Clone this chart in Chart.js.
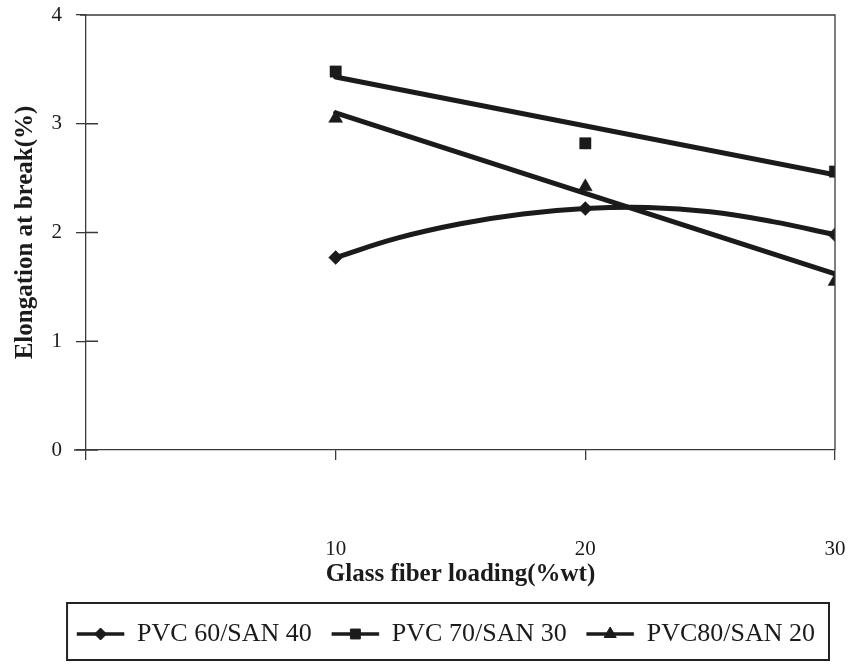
<!DOCTYPE html>
<html lang="en">
<head>
    <meta charset="UTF-8">
    <title>Elongation at break vs glass fiber loading</title>
    <script src="https://cdn.jsdelivr.net/npm/chart.js"></script>
    <style>
        html, body {
            margin: 0;
            padding: 0;
            background-color: #ffffff;
        }

        .chart-container {
            width: 849px;
            height: 668px;
        }
    </style>
</head>
<body>
    <div class="chart-container">
        <canvas id="elongationChart"></canvas>
    </div>

    <script>
        // glass fiber loading (%wt)
        const loading = [10, 20, 30];

        // measured elongation at break (%)
        const pvc60san40 = [1.77, 2.22, 1.98];
        const pvc70san30 = [3.48, 2.82, 2.56];
        const pvc80san20 = [3.05, 2.42, 1.55];

        // trend lines
        const curveLoading = [10, 12.5, 15, 17.5, 20, 22.5, 25, 27.5, 30];
        const curve60 = [1.77, 1.95, 2.08, 2.17, 2.22, 2.23, 2.19, 2.10, 1.98];
        const lineLoading = [10, 30];
        const line70 = [3.43, 2.53];
        const line80 = [3.10, 1.62];

        const seriesNames = ['PVC 60/SAN 40', 'PVC 70/SAN 30', 'PVC80/SAN 20'];
        const markerStyles = ['rectRot', 'rect', 'triangle'];
        const markerSizes = [7, 8, 8];

        const ink = '#1b1b1b';
        const axisInk = '#3a3a3a';
        const serif = "'Liberation Serif', 'Times New Roman', serif";
        const legendFontSize = 26;
        const legendBoxWidth = 47;

        function points(xs, ys) {
            return xs.map((x, i) => ({ x: x, y: ys[i] }));
        }

        // Draws the top/right frame, the inner half of the y ticks,
        // and the boxed legend with a marker on each line sample
        const framePlugin = {
            id: 'frame',
            afterDraw(chart) {
                const ctx = chart.ctx;
                const a = chart.chartArea;
                const yScale = chart.scales.y;

                ctx.save();
                ctx.strokeStyle = axisInk;
                ctx.lineWidth = 1.3;
                ctx.beginPath();
                ctx.moveTo(a.left - 6, a.top);
                ctx.lineTo(a.right, a.top);
                ctx.lineTo(a.right, a.bottom);
                yScale.ticks.forEach(t => {
                    const py = yScale.getPixelForValue(t.value);
                    ctx.moveTo(a.left, py);
                    ctx.lineTo(a.left + 12, py);
                });
                ctx.moveTo(a.left - 12, a.bottom);
                ctx.lineTo(a.left, a.bottom);
                ctx.stroke();

                const boxes = chart.legend.legendHitBoxes || [];
                if (boxes.length) {
                    let minLeft = Infinity;
                    let maxRight = -Infinity;
                    let cy = 0;
                    boxes.forEach((h, i) => {
                        const cx = h.left + legendBoxWidth / 2;
                        cy = h.top + legendFontSize / 2;
                        minLeft = Math.min(minLeft, h.left);
                        maxRight = Math.max(maxRight, h.left + h.width);
                        ctx.fillStyle = ink;
                        ctx.strokeStyle = ink;
                        ctx.lineWidth = 1;
                        Chart.helpers.drawPoint(ctx, {
                            pointStyle: markerStyles[i],
                            radius: markerSizes[i] - 1,
                            rotation: 0,
                            borderWidth: 1
                        }, cx, cy);
                    });
                    ctx.strokeStyle = '#222';
                    ctx.lineWidth = 2;
                    ctx.strokeRect(minLeft - 10, cy - 31, maxRight - minLeft + 24, 57);
                }
                ctx.restore();
            }
        };

        const markerSets = [pvc60san40, pvc70san30, pvc80san20].map((values, i) => ({
            label: seriesNames[i],
            data: points(loading, values),
            showLine: false,
            pointStyle: markerStyles[i],
            pointRadius: markerSizes[i],
            pointHoverRadius: markerSizes[i],
            backgroundColor: ink,
            borderColor: ink,
            borderWidth: 0.5
        }));

        const trendSets = [
            { data: points(curveLoading, curve60), tension: 0.4 },
            { data: points(lineLoading, line70), tension: 0 },
            { data: points(lineLoading, line80), tension: 0 }
        ].map(t => ({
            label: 'trend',
            data: t.data,
            showLine: true,
            tension: t.tension,
            pointRadius: 0,
            borderColor: ink,
            borderWidth: 5,
            borderCapStyle: 'round',
            fill: false
        }));

        const ctx = document.getElementById('elongationChart').getContext('2d');
        const elongationChart = new Chart(ctx, {
            type: 'scatter',
            data: {
                datasets: markerSets.concat(trendSets)
            },
            options: {
                responsive: true,
                maintainAspectRatio: false,
                animation: false,
                layout: {
                    padding: { top: 15, right: 14, bottom: 11, left: 0 }
                },
                scales: {
                    x: {
                        type: 'linear',
                        min: 0,
                        max: 30,
                        afterFit: s => {
                            s.height = 151;
                            s.paddingLeft = 0;
                            s.paddingRight = 0;
                        },
                        ticks: {
                            stepSize: 10,
                            padding: 77,
                            color: ink,
                            font: { family: serif, size: 21 },
                            callback: v => (v === 0 ? '' : v)
                        },
                        grid: {
                            drawOnChartArea: false,
                            tickLength: 10,
                            color: axisInk,
                            lineWidth: 1.3
                        },
                        border: { color: axisInk, width: 1.3 },
                        title: {
                            display: true,
                            text: 'Glass fiber loading(%wt)',
                            color: ink,
                            font: { family: serif, size: 25, weight: 'bold' },
                            padding: { top: 0, bottom: 11 }
                        }
                    },
                    y: {
                        min: 0,
                        max: 4,
                        afterFit: s => {
                            s.width = 86;
                            s.paddingTop = 0;
                            s.paddingBottom = 0;
                        },
                        ticks: {
                            stepSize: 1,
                            padding: 14,
                            color: ink,
                            font: { family: serif, size: 21 }
                        },
                        grid: {
                            drawOnChartArea: false,
                            tickLength: 10,
                            color: axisInk,
                            lineWidth: 1.3
                        },
                        border: { color: axisInk, width: 1.3 },
                        title: {
                            display: true,
                            text: 'Elongation at break(%)',
                            color: ink,
                            font: { family: serif, size: 25, weight: 'bold' },
                            padding: { top: 11, bottom: 0 }
                        }
                    }
                },
                plugins: {
                    legend: {
                        position: 'bottom',
                        align: 'end',
                        labels: {
                            color: ink,
                            font: { family: serif, size: legendFontSize },
                            boxWidth: legendBoxWidth,
                            boxHeight: 3,
                            padding: 20,
                            filter: item => item.datasetIndex < 3
                        }
                    },
                    tooltip: { enabled: false }
                }
            },
            plugins: [framePlugin]
        });
    </script>
</body>
</html>
